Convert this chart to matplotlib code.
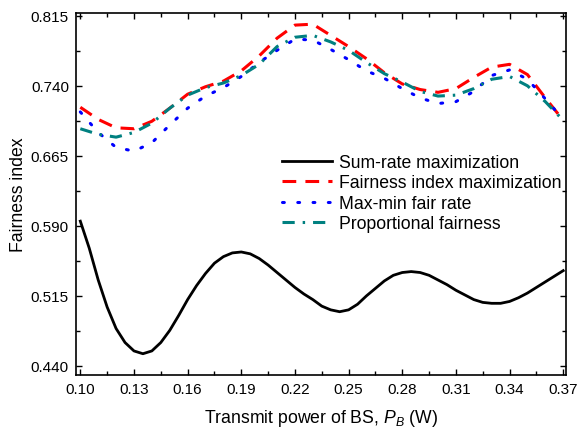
import numpy as np
import matplotlib
matplotlib.use("Agg")
import matplotlib.pyplot as plt
from matplotlib.ticker import FixedLocator, FormatStrFormatter

plt.rcParams['font.family'] = ['Liberation Sans', 'DejaVu Sans']
plt.rcParams['mathtext.fontset'] = 'custom'
plt.rcParams['mathtext.rm'] = 'Liberation Sans'
plt.rcParams['mathtext.it'] = 'Liberation Sans:italic'

# ------------------------------------------------------
# data
# ------------------------------------------------------
power_fine = [0.100, 0.105, 0.110, 0.115, 0.120, 0.125, 0.130, 0.135, 0.140, 0.145,
              0.150, 0.155, 0.160, 0.165, 0.170, 0.175, 0.180, 0.185, 0.190, 0.195,
              0.200, 0.205, 0.210, 0.215, 0.220, 0.225, 0.230, 0.235, 0.240, 0.245,
              0.250, 0.255, 0.260, 0.265, 0.270, 0.275, 0.280, 0.285, 0.290, 0.295,
              0.300, 0.305, 0.310, 0.315, 0.320, 0.325, 0.330, 0.335, 0.340, 0.345,
              0.350, 0.355, 0.360, 0.365, 0.370]
sum_rate = [0.595, 0.566, 0.532, 0.503, 0.480, 0.465, 0.456, 0.453, 0.456, 0.465,
            0.478, 0.494, 0.511, 0.526, 0.539, 0.550, 0.557, 0.561, 0.562, 0.560,
            0.555, 0.548, 0.540, 0.532, 0.524, 0.517, 0.511, 0.504, 0.500, 0.498,
            0.500, 0.506, 0.515, 0.523, 0.531, 0.537, 0.540, 0.541, 0.540, 0.537,
            0.532, 0.527, 0.521, 0.516, 0.511, 0.508, 0.507, 0.507, 0.509, 0.513,
            0.518, 0.524, 0.530, 0.536, 0.542]

power = [0.10, 0.11, 0.12, 0.13, 0.14, 0.15, 0.16, 0.17, 0.18, 0.19,
         0.20, 0.21, 0.22, 0.23, 0.24, 0.25, 0.26, 0.27, 0.28, 0.29,
         0.30, 0.31, 0.32, 0.33, 0.34, 0.35, 0.36, 0.37]
fairness_max = [0.717, 0.704, 0.695, 0.694, 0.702, 0.716, 0.731, 0.739, 0.745, 0.756,
                0.772, 0.791, 0.805, 0.806, 0.794, 0.782, 0.769, 0.754, 0.742, 0.736,
                0.733, 0.737, 0.749, 0.760, 0.763, 0.752, 0.727, 0.703]
max_min = [0.712, 0.690, 0.674, 0.670, 0.679, 0.698, 0.716, 0.729, 0.738, 0.750,
           0.765, 0.778, 0.790, 0.789, 0.779, 0.768, 0.756, 0.748, 0.737, 0.727,
           0.721, 0.723, 0.734, 0.751, 0.757, 0.747, 0.726, 0.704]
proportional = [0.694, 0.688, 0.685, 0.690, 0.700, 0.716, 0.730, 0.738, 0.743, 0.751,
                0.763, 0.782, 0.792, 0.794, 0.787, 0.778, 0.765, 0.753, 0.744, 0.734,
                0.729, 0.730, 0.737, 0.747, 0.750, 0.740, 0.723, 0.703]

labels = ["Sum-rate maximization", "Fairness index maximization",
          "Max-min fair rate", "Proportional fairness"]

x_ticks = [0.10, 0.13, 0.16, 0.19, 0.22, 0.25, 0.28, 0.31, 0.34, 0.37]
x_minor = [0.115, 0.145, 0.175, 0.205, 0.235, 0.265, 0.295, 0.325, 0.355]
y_ticks = [0.440, 0.515, 0.590, 0.665, 0.740, 0.815]
y_minor = [0.4775, 0.5525, 0.6275, 0.7025, 0.7775]

# ------------------------------------------------------
# plot
# ------------------------------------------------------
fig = plt.figure(figsize=(5.79, 4.31), dpi=100)
ax = fig.add_axes([0.131, 0.128, 0.847, 0.840])

ax.plot(power_fine, sum_rate, color='black', lw=2.0, label=labels[0])
ax.plot(power, fairness_max, color='red', lw=2.2, dashes=(4.5, 3), label=labels[1])
ax.plot(power, max_min, color='blue', lw=2.2, dashes=(0.6, 4.4),
        dash_capstyle='round', label=labels[2])
ax.plot(power, proportional, color='#008080', lw=2.2, dashes=(4, 2.6, 0.8, 2.6),
        label=labels[3])

ax.set_xlim(0.0975, 0.3717)
ax.set_ylim(0.4304, 0.8182)
ax.xaxis.set_major_locator(FixedLocator(x_ticks))
ax.xaxis.set_minor_locator(FixedLocator(x_minor))
ax.yaxis.set_major_locator(FixedLocator(y_ticks))
ax.yaxis.set_minor_locator(FixedLocator(y_minor))
ax.xaxis.set_major_formatter(FormatStrFormatter('%.2f'))
ax.yaxis.set_major_formatter(FormatStrFormatter('%.3f'))
ax.tick_params(which='both', direction='in', top=True, right=True, labelsize=11, width=1.0)
ax.tick_params(which='major', length=4.5, pad=5)
ax.tick_params(which='minor', length=2.8)
for s in ax.spines.values():
    s.set_linewidth(1.2)

ax.set_xlabel("Transmit power of BS, $P_B$ (W)", fontsize=12.7, labelpad=8)
ax.set_ylabel("Fairness index", fontsize=12.7, labelpad=3)

ax.legend(loc='upper left', bbox_to_anchor=(0.405, 0.63), frameon=False, fontsize=12.7,
          handlelength=2.85, handletextpad=0.4, labelspacing=0.2, borderaxespad=0)

fig.savefig("out.png", dpi=100)
